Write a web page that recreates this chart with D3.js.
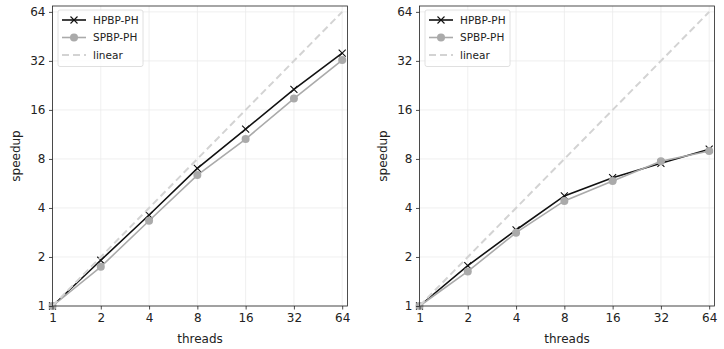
<!DOCTYPE html>
<html>
<head>
<meta charset="utf-8">
<script src="https://cdn.jsdelivr.net/npm/d3@7"></script>
<style>
  body { margin: 0; background: #fff; }
  svg { display: block; font-family: "DejaVu Sans", sans-serif; }
</style>
</head>
<body>
<svg id="chart" width="724" height="349"></svg>
<script>
// data
const threads = [1, 2, 4, 8, 16, 32, 64];
const tickLabels = ["1", "2", "4", "8", "16", "32", "64"];
const hpbpLeft = [1, 1.91, 3.62, 7.0, 12.2, 21.4, 35.7];
const spbpLeft = [1, 1.74, 3.34, 6.37, 10.6, 18.8, 32.4];
const hpbpRight = [1, 1.77, 2.93, 4.74, 6.14, 7.52, 9.18];
const spbpRight = [1, 1.63, 2.82, 4.42, 5.86, 7.74, 8.95];
const linear = threads.slice();

const panels = [
  { left: 52.5, right: 347.5, hpbp: hpbpLeft, spbp: spbpLeft },
  { left: 419.5, right: 714.5, hpbp: hpbpRight, spbp: spbpRight }
];
const plotTop = 6, plotBottom = 306;

const svg = d3.select('#chart');

panels.forEach((p, pi) => {
  const x = d3.scaleLog().base(2).domain([1, Math.pow(2, 6.11)]).range([p.left, p.right]);
  const y = d3.scaleLog().base(2).domain([1, Math.pow(2, 6.12)]).range([plotBottom, plotTop]);

  const g = svg.append('g');

  // grid
  g.selectAll('.gx').data(threads).enter().append('line')
    .attr('x1', d => x(d)).attr('x2', d => x(d))
    .attr('y1', plotTop).attr('y2', plotBottom)
    .attr('stroke', '#ebebeb').attr('stroke-width', 0.8);
  g.selectAll('.gy').data(threads).enter().append('line')
    .attr('y1', d => y(d)).attr('y2', d => y(d))
    .attr('x1', p.left).attr('x2', p.right)
    .attr('stroke', '#ebebeb').attr('stroke-width', 0.8);

  const line = d3.line().x((d, i) => x(threads[i])).y(d => y(d));

  // HPBP
  g.append('path').datum(p.hpbp)
    .attr('d', line).attr('fill', 'none')
    .attr('stroke', '#111111').attr('stroke-width', 1.6);
  g.selectAll('.hp').data(p.hpbp).enter().append('path')
    .attr('transform', (d, i) => 'translate(' + x(threads[i]) + ',' + y(d) + ')')
    .attr('d', 'M-3.5,-3.5L3.5,3.5M-3.5,3.5L3.5,-3.5')
    .attr('stroke', '#111111').attr('stroke-width', 1.1);

  // SPBP
  g.append('path').datum(p.spbp)
    .attr('d', line).attr('fill', 'none')
    .attr('stroke', '#aaaaaa').attr('stroke-width', 1.6);
  g.selectAll('.sp').data(p.spbp).enter().append('circle')
    .attr('cx', (d, i) => x(threads[i])).attr('cy', d => y(d))
    .attr('r', 4).attr('fill', '#aaaaaa');

  // linear reference
  g.append('path').datum(linear)
    .attr('d', line).attr('fill', 'none')
    .attr('stroke', '#d3d3d3').attr('stroke-width', 2)
    .attr('stroke-dasharray', '7,4');

  // axes
  const xAxis = d3.axisBottom(x).tickValues(threads)
    .tickFormat((d, i) => tickLabels[i]).tickSize(3.5).tickPadding(3.5);
  const yAxis = d3.axisLeft(y).tickValues(threads)
    .tickFormat((d, i) => tickLabels[i]).tickSize(3.5).tickPadding(3.5);

  const gx = g.append('g').attr('transform', 'translate(0,' + plotBottom + ')').call(xAxis);
  const gy = g.append('g').attr('transform', 'translate(' + p.left + ',0)').call(yAxis);
  [gx, gy].forEach(a => {
    a.select('.domain').remove();
    a.selectAll('text').attr('font-size', 12).attr('fill', '#222')
      .attr('font-family', '"DejaVu Sans", sans-serif');
    a.selectAll('line').attr('stroke', '#222').attr('stroke-width', 0.8);
  });

  // frame
  g.append('rect')
    .attr('x', p.left).attr('y', plotTop)
    .attr('width', p.right - p.left).attr('height', plotBottom - plotTop)
    .attr('fill', 'none').attr('stroke', '#222').attr('stroke-width', 0.8);

  // axis labels
  g.append('text')
    .attr('x', (p.left + p.right) / 2).attr('y', 343)
    .attr('text-anchor', 'middle').attr('font-size', 12).attr('fill', '#222')
    .text('threads');
  g.append('text')
    .attr('transform', 'translate(' + (p.left - 33) + ',' + ((plotTop + plotBottom) / 2) + ') rotate(-90)')
    .attr('text-anchor', 'middle').attr('font-size', 12).attr('fill', '#222')
    .text('speedup');

  // legend
  const lx = p.left + 5.5, ly = 10;
  const leg = g.append('g');
  leg.append('rect')
    .attr('x', lx).attr('y', ly).attr('width', 85).attr('height', 56.5)
    .attr('rx', 2).attr('fill', '#fff').attr('fill-opacity', 0.8)
    .attr('stroke', '#d8d8d8').attr('stroke-width', 0.8);
  const items = [
    { name: 'HPBP-PH', color: '#111111', kind: 'x' },
    { name: 'SPBP-PH', color: '#aaaaaa', kind: 'o' },
    { name: 'linear', color: '#d3d3d3', kind: 'dash' }
  ];
  items.forEach((it, i) => {
    const yy = ly + 10 + i * 17.5;
    leg.append('line')
      .attr('x1', lx + 4).attr('x2', lx + 28).attr('y1', yy).attr('y2', yy)
      .attr('stroke', it.color).attr('stroke-width', it.kind === 'dash' ? 2 : 1.6)
      .attr('stroke-dasharray', it.kind === 'dash' ? '7,4' : null);
    if (it.kind === 'x') {
      leg.append('path').attr('transform', 'translate(' + (lx + 16) + ',' + yy + ')')
        .attr('d', 'M-3.5,-3.5L3.5,3.5M-3.5,3.5L3.5,-3.5').attr('stroke', it.color).attr('stroke-width', 1.1);
    } else if (it.kind === 'o') {
      leg.append('circle').attr('cx', lx + 16).attr('cy', yy).attr('r', 4).attr('fill', it.color);
    }
    leg.append('text')
      .attr('x', lx + 35).attr('y', yy).attr('dy', '0.35em')
      .attr('font-size', 10.5).attr('fill', '#222').text(it.name);
  });
});
</script>
</body>
</html>
